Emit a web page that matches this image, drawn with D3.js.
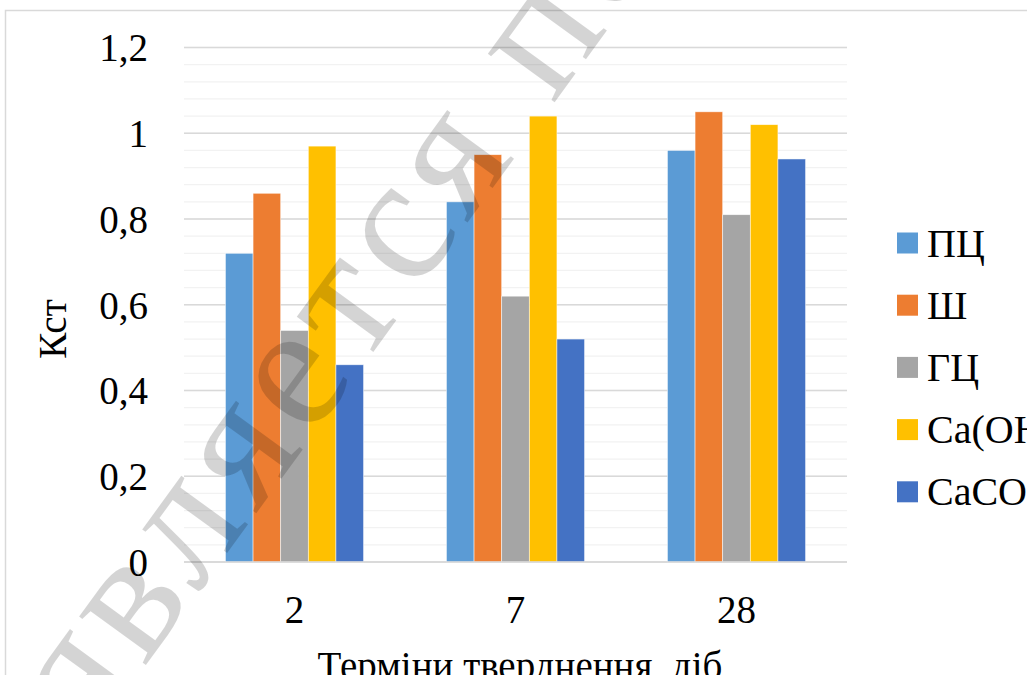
<!DOCTYPE html>
<html><head><meta charset="utf-8">
<script src="https://cdn.jsdelivr.net/npm/d3@7"></script>
<style>html,body{margin:0;padding:0;background:#fff;overflow:hidden}</style>
</head><body>
<svg id="c" width="1027" height="675"></svg>
<script>
const categories = ["2", "7", "28"];
const seriesNames = ["ПЦ", "Ш", "ГЦ", "Ca(OH)₂", "CaCO₃"];
const seriesColors = ["#5B9BD5", "#ED7D31", "#A5A5A5", "#FFC000", "#4472C4"];
const valuesPC = [0.72, 0.84, 0.96];
const valuesSh = [0.86, 0.95, 1.05];
const valuesGC = [0.54, 0.62, 0.81];
const valuesCaOH = [0.97, 1.04, 1.02];
const valuesCaCO = [0.46, 0.52, 0.94];
const yTicks = [0, 0.2, 0.4, 0.6, 0.8, 1, 1.2];
const yTickLabels = ["0", "0,2", "0,4", "0,6", "0,8", "1", "1,2"];
const yTitle = "Кст";
const xTitle = "Терміни тверднення, діб";
const watermark = "является по";

const seriesValues = [valuesPC, valuesSh, valuesGC, valuesCaOH, valuesCaCO];
const font = "'Liberation Serif','Times New Roman',serif";
const svg = d3.select("#c");
const L = 184, R = 847, T = 47.5, B = 562;

svg.append("rect").attr("x", 5.5).attr("y", 10.5).attr("width", 1200).attr("height", 900)
  .attr("fill", "#fff").attr("stroke", "#D9D9D9").attr("stroke-width", 1.5);

const y = d3.scaleLinear().domain([0, 1.2]).range([B, T]);
const x = d3.scaleBand().domain(categories).range([L, R]).paddingInner(0.375).paddingOuter(0.1875);
const xs = d3.scaleBand().domain(seriesNames).range([0, x.bandwidth()]);

// minor gridlines
const minor = d3.range(0, 31).map(i => i * 0.04);
svg.append("g").selectAll("line").data(minor).join("line")
  .attr("x1", L).attr("x2", R).attr("y1", d => y(d)).attr("y2", d => y(d))
  .attr("stroke", "#F2F2F2").attr("stroke-width", 1.3);
svg.append("g").selectAll("line").data(yTicks).join("line")
  .attr("x1", L).attr("x2", R).attr("y1", d => y(d)).attr("y2", d => y(d))
  .attr("stroke", "#D9D9D9").attr("stroke-width", 1.3);

// bars
const g = svg.append("g");
seriesNames.forEach((s, si) => {
  g.selectAll(null).data(categories).join("rect")
    .attr("x", c => x(c) + xs(s))
    .attr("width", xs.bandwidth())
    .attr("y", (c, ci) => y(seriesValues[si][ci]))
    .attr("height", (c, ci) => B - y(seriesValues[si][ci]))
    .attr("fill", seriesColors[si])
    .attr("stroke", "#fff").attr("stroke-width", 0.7).attr("stroke-opacity", 0.7);
});

// axis line
svg.append("line").attr("x1", L).attr("x2", R).attr("y1", B).attr("y2", B)
  .attr("stroke", "#D9D9D9").attr("stroke-width", 1.5);

// y tick labels
const yAxis = d3.axisLeft(y).tickValues(yTicks).tickSize(0).tickPadding(0)
  .tickFormat((d, i) => yTickLabels[i]);
const ya = svg.append("g").attr("transform", `translate(148,0)`).call(yAxis);
ya.select(".domain").remove();
ya.selectAll("text").attr("font-family", font).attr("font-size", 39).attr("fill", "#000")
  .attr("dy", "0.34em");

// x tick labels
const xAxis = d3.axisBottom(x).tickSize(0).tickPadding(0);
const xa = svg.append("g").attr("transform", `translate(0,623)`).call(xAxis);
xa.select(".domain").remove();
xa.selectAll("text").attr("font-family", font).attr("font-size", 39).attr("fill", "#000")
  .attr("dy", 0).attr("y", 0);

// axis titles
svg.append("text").attr("transform", "translate(66,329) rotate(-90)")
  .attr("text-anchor", "middle").attr("font-family", font).attr("font-size", 39).text(yTitle);
svg.append("text").attr("x", 520).attr("y", 679).attr("text-anchor", "middle")
  .attr("font-family", font).attr("font-size", 39).text(xTitle);

// legend
const lg = svg.append("g");
seriesNames.forEach((s, i) => {
  const cy = 243 + i * 62.2;
  lg.append("rect").attr("x", 897).attr("y", cy - 10.5).attr("width", 21).attr("height", 21).attr("fill", seriesColors[i]);
  lg.append("text").attr("x", 927).attr("y", cy).attr("dy", "0.34em")
    .attr("font-family", font).attr("font-size", 40).text(s);
});

// watermark
svg.append("text").attr("transform", "translate(90,742) rotate(-54)")
  .attr("font-family", font).attr("font-size", 180).attr("letter-spacing", 9)
  .attr("fill", "#000").attr("fill-opacity", 0.17).text(watermark);
</script>
</body></html>
